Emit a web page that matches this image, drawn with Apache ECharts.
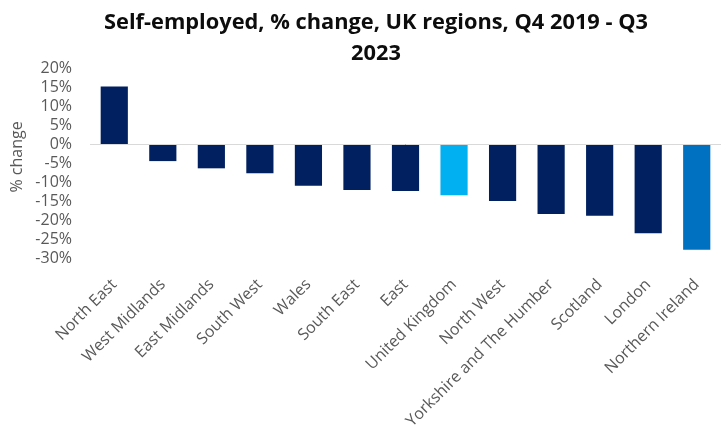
<!DOCTYPE html>
<html>
<head>
<meta charset="utf-8">
<script src="https://cdn.jsdelivr.net/npm/echarts@6/dist/echarts.min.js"></script>
<style>
  html, body { margin: 0; padding: 0; background: #ffffff; }
  #chart { width: 726px; height: 427px; }
</style>
</head>
<body>
<div id="chart"></div>
<script>
// Regions, ordered from largest rise to largest fall
const regions = [
  'North East', 'West Midlands', 'East Midlands', 'South West', 'Wales',
  'South East', 'East', 'United Kingdom', 'North West',
  'Yorkshire and The Humber', 'Scotland', 'London', 'Northern Ireland'
];

// Change in self-employment, Q4 2019 to Q3 2023 (%)
const changePct = [15.1, -4.5, -6.4, -7.7, -11.0, -12.1, -12.4, -13.5, -15.0, -18.4, -18.9, -23.5, -27.8];

// Y-axis range and step (%)
const yMin = -30;
const yMax = 20;
const yStep = 5;

const titleText = 'Self-employed, % change, UK regions, Q4 2019 - Q3\n2023';
const yAxisTitle = '% change';

// Bar colours: regions in navy, the UK total and Northern Ireland highlighted
const navy = '#002060';
const highlight = {
  'United Kingdom': '#00B0F0',
  'Northern Ireland': '#0070C0'
};

const font = '"Open Sans", sans-serif';
const grey = '#595959';

const chart = echarts.init(document.getElementById('chart'), null, { renderer: 'canvas' });

chart.setOption({
  animation: false,
  backgroundColor: '#ffffff',
  title: {
    text: titleText,
    left: 371,
    top: 2,
    textAlign: 'center',
    textStyle: {
      fontFamily: font,
      fontWeight: 'bold',
      fontSize: 21.8,
      lineHeight: 31,
      color: '#0d0d0d'
    }
  },
  grid: {
    left: 90, right: 5, top: 68, bottom: 169,
    containLabel: false,
    outerBoundsMode: 'none'
  },
  xAxis: {
    type: 'category',
    data: regions,
    axisLine: { show: false, onZero: false },
    axisTick: { show: false },
    axisLabel: {
      interval: 0,
      rotate: 45,
      margin: 24,
      color: grey,
      fontFamily: font,
      fontSize: 16
    }
  },
  yAxis: {
    type: 'value',
    min: yMin,
    max: yMax,
    interval: yStep,
    axisLine: { show: false },
    axisTick: { show: false },
    splitLine: { show: false },
    axisLabel: {
      margin: 18,
      color: grey,
      fontFamily: font,
      fontSize: 16,
      formatter: v => v + '%'
    }
  },
  graphic: [{
    type: 'text',
    x: 17,
    y: 157,
    rotation: Math.PI / 2,
    style: {
      text: yAxisTitle,
      fill: grey,
      font: '16px ' + font,
      align: 'center',
      verticalAlign: 'middle'
    }
  }],
  series: [{
    type: 'bar',
    data: changePct.map((v, i) => ({
      value: v,
      itemStyle: { color: highlight[regions[i]] || navy }
    })),
    barCategoryGap: '44%',
    markLine: {
      silent: true,
      symbol: 'none',
      label: { show: false },
      lineStyle: { color: '#d9d9d9', type: 'solid', width: 1 },
      data: [{ yAxis: 0 }]
    }
  }]
});
</script>
</body>
</html>
